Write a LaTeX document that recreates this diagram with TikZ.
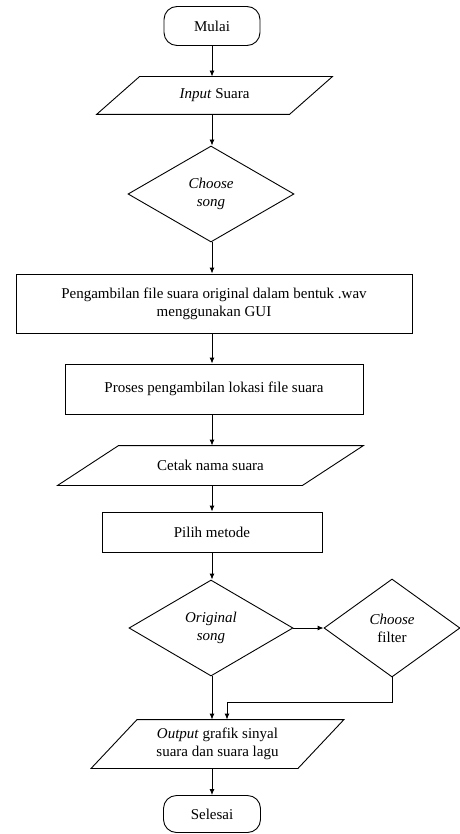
\documentclass[tikz,border=0pt]{standalone}
\usepackage{fontspec}
\setmainfont{Liberation Serif}
\usetikzlibrary{arrows.meta,positioning,calc,shapes}

% slanted frame round an input/output node
\newcommand{\ioframe}[2]{%
  \draw[line width=0.9pt] ($(#1.north west)+(#2,0)$) -- ($(#1.north east)+(#2,0)$)
    -- ($(#1.south east)-(#2,0)$) -- ($(#1.south west)-(#2,0)$) -- cycle;}

\begin{document}
\begin{tikzpicture}[x=1pt, y=-1pt,
    base/.style={line width=0.9pt, font=\fontsize{15}{18}\selectfont, align=center, inner sep=0pt},
    term/.style={base, draw, rectangle, rounded corners=13pt},
    proc/.style={base, draw, rectangle},
    io/.style={base, rectangle},
    decide/.style={base, draw, diamond},
    arrow/.style={line width=0.9pt, -{Latex[length=6pt,width=5pt]}}]
    \useasboundingbox (0,0) rectangle (459,834);

    % Flow column
    \node[term, minimum width=96pt, minimum height=39pt] (mulai) at (212,26) {Mulai};
    \node[io, minimum width=192pt, minimum height=37pt] (input) at (214.5,95.5) {\textit{Input} Suara};
    \ioframe{input}{21.5}
    \node[decide, minimum width=166pt, minimum height=96pt] (song) at (211,194) {\textit{Choose}\\\textit{song}};
    \node[proc, minimum width=396pt, minimum height=59pt] (ambil) at (214,303.5) {Pengambilan file suara original dalam bentuk .wav\\menggunakan GUI};
    \node[proc, minimum width=298pt, minimum height=50pt] (lokasi) at (214,389) {Proses pengambilan lokasi file suara};
    \node[io, minimum width=244pt, minimum height=39pt] (cetak) at (210.5,465.5) {Cetak nama suara};
    \ioframe{cetak}{30.5}
    \node[proc, minimum width=220pt, minimum height=40pt] (metode) at (212,532) {Pilih metode};
    \node[decide, minimum width=164pt, minimum height=96pt] (original) at (211,628) {\textit{Original}\\\textit{song}};
    \node[decide, minimum width=136pt, minimum height=98pt] (filter) at (392,628) {\textit{Choose}\\filter};
    \node[io, minimum width=206pt, minimum height=48pt] (output) at (217.5,744) {\textit{Output} grafik sinyal\\suara dan suara lagu};
    \ioframe{output}{23}
    \node[term, minimum width=97pt, minimum height=37pt] (selesai) at (212,814) {Selesai};

    % Arrows
    \coordinate (col) at (212,0);
    \draw[arrow] (col |- mulai.south) -- (col |- input.north);
    \draw[arrow] (col |- input.south) -- (col |- song.north);
    \draw[arrow] (col |- song.south) -- (col |- ambil.north);
    \draw[arrow] (col |- ambil.south) -- (col |- lokasi.north);
    \draw[arrow] (col |- lokasi.south) -- (col |- cetak.north);
    \draw[arrow] (col |- cetak.south) -- (col |- metode.north);
    \draw[arrow] (col |- metode.south) -- (col |- original.north);
    \draw[arrow] (original) -- (filter);
    \draw[arrow] (col |- original.south) -- (col |- output.north);
    \coordinate (join) at (227,702);
    \draw[arrow] (filter) |- (join) -- (join |- output.north);
    \draw[arrow] (col |- output.south) -- (col |- selesai.north);
\end{tikzpicture}
\end{document}
